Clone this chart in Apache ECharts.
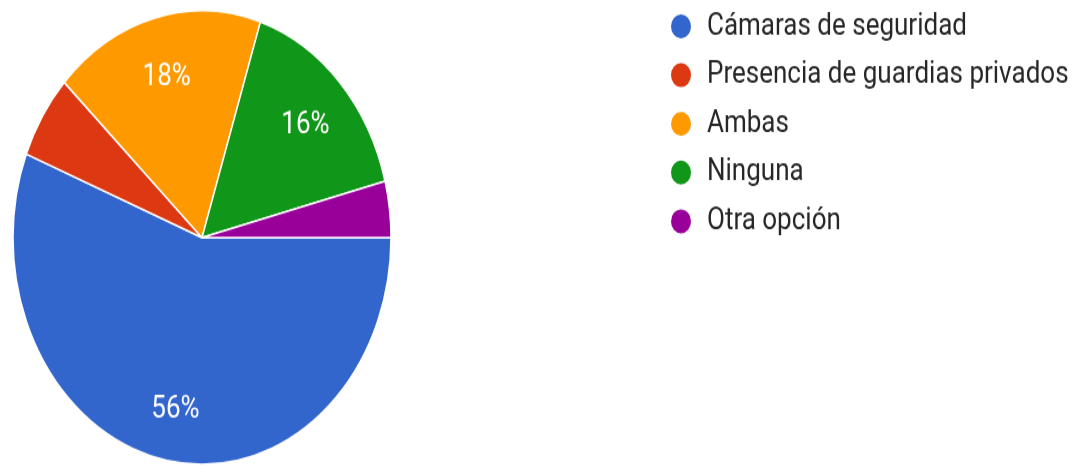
<!DOCTYPE html>
<html>
<head>
<meta charset="utf-8">
<script src="https://cdn.jsdelivr.net/npm/echarts@6/dist/echarts.min.js"></script>
<style>
  html, body { margin: 0; padding: 0; background: #ffffff; overflow: hidden; }
  #page { width: 1072px; height: 468px; position: relative; overflow: hidden; }
  /* The chart is laid out on a shorter canvas and stretched vertically,
     which turns the pie into an upright ellipse. */
  #chart {
    position: absolute;
    left: 0;
    top: 0;
    width: 1072px;
    height: 390px;
    transform: scaleY(1.2);
    transform-origin: 0 0;
  }
</style>
</head>
<body>
<div id="page"><div id="chart"></div></div>
<script>
// Survey answers and their shares (percent)
const categories = [
  'Cámaras de seguridad',
  'Presencia de guardias privados',
  'Ambas',
  'Ninguna',
  'Otra opción'
];
const shares = [56, 6, 18, 16, 4];
const sliceColors = ['#3366cc', '#dc3912', '#ff9900', '#109618', '#990099'];
// Slices smaller than this do not get a percentage label
const minLabelShare = 10;

const slices = categories.map((name, i) => ({
  name: name,
  value: shares[i],
  itemStyle: { color: sliceColors[i] }
}));

const center = [202, 198];
const radius = 189;

const chart = echarts.init(document.getElementById('chart'), null, { renderer: 'canvas' });

chart.setOption({
  animation: false,
  legend: {
    orient: 'vertical',
    left: 664,
    top: 4,
    icon: 'circle',
    itemWidth: 42,
    itemHeight: 22,
    itemGap: 14.6,
    selectedMode: false,
    textStyle: {
      fontFamily: 'Roboto',
      fontSize: 26,
      lineHeight: 26,
      color: '#262626'
    },
    data: categories
  },
  series: [
    {
      // visible slices
      type: 'pie',
      center: center,
      radius: radius,
      startAngle: 0,
      clockwise: true,
      silent: true,
      data: slices,
      itemStyle: { borderColor: '#ffffff', borderWidth: 1.5 },
      label: { show: false },
      labelLine: { show: false }
    },
    {
      // invisible ring that carries the percentage labels further out
      type: 'pie',
      center: center,
      radius: [radius * 0.47, radius],
      startAngle: 0,
      clockwise: true,
      silent: true,
      legendHoverLink: false,
      data: categories.map((name, i) => ({
        name: name + ' ',
        value: shares[i],
        itemStyle: { color: 'rgba(0,0,0,0)' },
        label: { show: shares[i] >= minLabelShare }
      })),
      itemStyle: { borderWidth: 0 },
      label: {
        position: 'inside',
        formatter: p => p.value + '%',
        color: '#ffffff',
        fontFamily: 'Roboto',
        fontSize: 26,
        fontWeight: 'normal',
        offset: [0, 4]
      },
      labelLine: { show: false }
    }
  ]
});
</script>
</body>
</html>
